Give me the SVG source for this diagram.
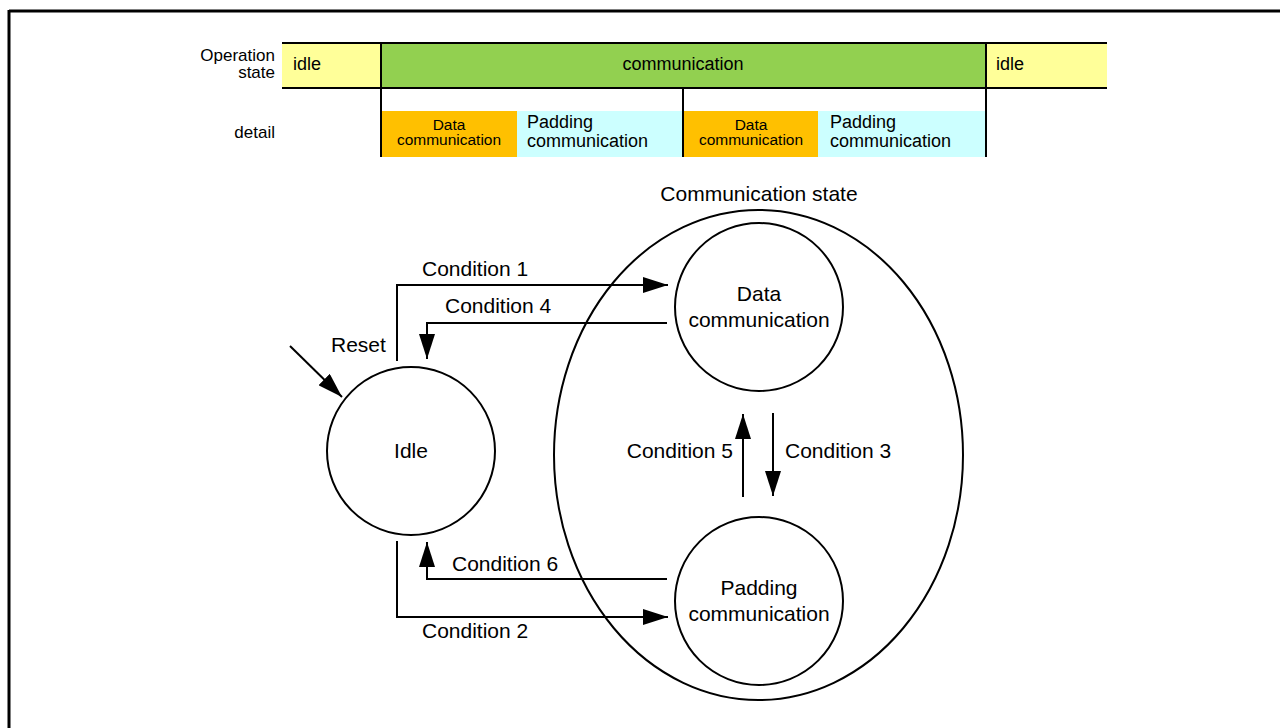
<svg xmlns="http://www.w3.org/2000/svg" width="1280" height="728" viewBox="0 0 1280 728">
<defs>
<marker id="ah" markerWidth="25" markerHeight="16" refX="25" refY="8" orient="auto" markerUnits="userSpaceOnUse">
<path d="M0,0 L25,8 L0,16 Z" fill="#000"/>
</marker>
<style>
text{font-family:"Liberation Sans",Arial,sans-serif;fill:#000}
.t18{font-size:18px}
.t17{font-size:17px}
.t16{font-size:15.5px}
.t21{font-size:21px}
.ln{stroke:#000;stroke-width:2;fill:none}
.st{stroke:#000;stroke-width:2;fill:#fff}
.cn{stroke:#000;stroke-width:2;fill:none;marker-end:url(#ah)}
</style>
</defs>
<rect width="1280" height="728" fill="#fff"/>
<g id="frame">
<line x1="9" y1="11" x2="1280" y2="11" stroke="#000" stroke-width="3"/>
<line x1="9" y1="10" x2="9" y2="728" stroke="#000" stroke-width="3"/>
</g>
<g id="timing">
<rect x="282" y="43" width="99" height="45" fill="#FFFF99"/>
<rect x="381" y="43" width="605" height="45" fill="#92D050"/>
<rect x="986" y="43" width="121" height="45" fill="#FFFF99"/>
<rect x="381" y="111" width="136" height="46" fill="#FFC000"/>
<rect x="517" y="111" width="166" height="46" fill="#CCFFFF"/>
<rect x="683" y="111" width="135" height="46" fill="#FFC000"/>
<rect x="818" y="111" width="168" height="46" fill="#CCFFFF"/>
<line class="ln" x1="282" y1="43" x2="1107" y2="43"/>
<line class="ln" x1="282" y1="88" x2="1107" y2="88"/>
<line class="ln" x1="381" y1="42" x2="381" y2="157"/>
<line class="ln" x1="986" y1="42" x2="986" y2="157"/>
<line class="ln" x1="683" y1="88" x2="683" y2="157"/>
<text class="t17" x="275" y="61" text-anchor="end">Operation</text>
<text class="t17" x="275" y="78" text-anchor="end">state</text>
<text class="t17" x="275" y="138" text-anchor="end">detail</text>
<text class="t18" x="293" y="70">idle</text>
<text class="t18" x="683" y="70" text-anchor="middle">communication</text>
<text class="t18" x="996" y="70">idle</text>
<text class="t16" x="449" y="130" text-anchor="middle">Data</text>
<text class="t16" x="449" y="145" text-anchor="middle">communication</text>
<text class="t18" x="527" y="128">Padding</text>
<text class="t18" x="527" y="147">communication</text>
<text class="t16" x="751" y="130" text-anchor="middle">Data</text>
<text class="t16" x="751" y="145" text-anchor="middle">communication</text>
<text class="t18" x="830" y="128">Padding</text>
<text class="t18" x="830" y="147">communication</text>
</g>
<g id="comm-state">
<ellipse class="ln" cx="758.5" cy="455" rx="204.5" ry="245"/>
<text class="t21" x="759" y="201" text-anchor="middle">Communication state</text>
</g>
<g id="data-comm">
<circle class="st" cx="759" cy="307" r="84"/>
<text class="t21" x="759" y="301" text-anchor="middle">Data</text>
<text class="t21" x="759" y="327" text-anchor="middle">communication</text>
</g>
<g id="padding-comm">
<circle class="st" cx="759" cy="601" r="84"/>
<text class="t21" x="759" y="595" text-anchor="middle">Padding</text>
<text class="t21" x="759" y="621" text-anchor="middle">communication</text>
</g>
<g id="idle">
<circle class="st" cx="411" cy="451" r="84"/>
<text class="t21" x="411" y="458" text-anchor="middle">Idle</text>
</g>
<g id="connectors">
<path class="cn" d="M290,346 L342,397"/>
<path class="cn" d="M397,361 V285 H668"/>
<path class="cn" d="M667,323 H427 V359"/>
<path class="cn" d="M743,497 V414"/>
<path class="cn" d="M773,413 V496"/>
<path class="cn" d="M667,579 H427 V542"/>
<path class="cn" d="M397,541 V617 H668"/>
<text class="t21" x="331" y="352">Reset</text>
<text class="t21" x="422" y="276">Condition 1</text>
<text class="t21" x="445" y="313">Condition 4</text>
<text class="t21" x="733" y="458" text-anchor="end">Condition 5</text>
<text class="t21" x="785" y="458">Condition 3</text>
<text class="t21" x="452" y="571">Condition 6</text>
<text class="t21" x="422" y="638">Condition 2</text>
</g>
</svg>
